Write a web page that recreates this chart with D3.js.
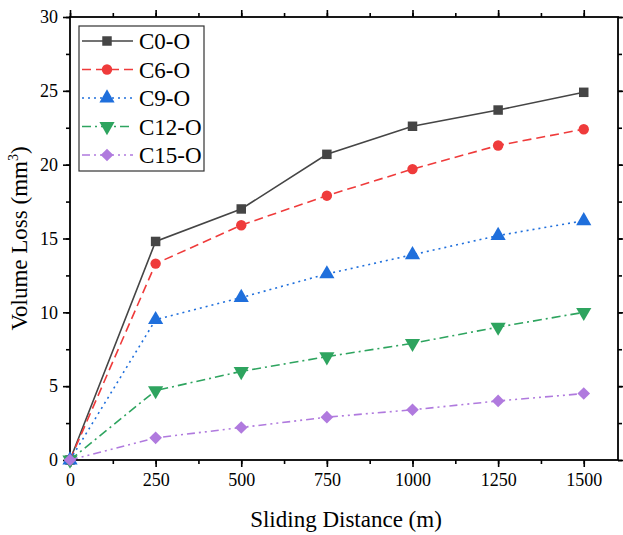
<!DOCTYPE html>
<html><head><meta charset="utf-8">
<script src="https://cdn.jsdelivr.net/npm/d3@7"></script>
<style>body{margin:0;background:#fff} text{font-family:"Liberation Serif","Times New Roman",Times,"DejaVu Serif",serif}</style>
</head><body>
<svg id="chart" width="623" height="535"></svg>
<script>
const distances = [0, 250, 500, 750, 1000, 1250, 1500];
const seriesNames = ["C0-O", "C6-O", "C9-O", "C12-O", "C15-O"];
const c0 = [0, 14.8, 17.0, 20.7, 22.6, 23.7, 24.9];
const c6 = [0, 13.3, 15.9, 17.9, 19.7, 21.3, 22.4];
const c9 = [0, 9.5, 11.0, 12.6, 13.9, 15.2, 16.2];
const c12 = [0, 4.7, 6.0, 7.0, 7.9, 9.0, 10.0];
const c15 = [0, 1.5, 2.2, 2.9, 3.4, 4.0, 4.5];
const xTicks = [0, 250, 500, 750, 1000, 1250, 1500];
const yTicks = [0, 5, 10, 15, 20, 25, 30];

const colors = ["#454545", "#ef3b3b", "#1f6fdc", "#2ea45f", "#b07ade"];
const dashes = [null, "9,5", "2,4", "9,4,2,4", "8,4,2,4,2,4"];
const symbols = ["square", "circle", "tup", "tdown", "diamond"];
const values = [c0, c6, c9, c12, c15];

const svg = d3.select("#chart");
const L = 70, R = 618, T = 17, B = 460;
const x = d3.scaleLinear().domain([0, 1600]).range([L, R]);
const y = d3.scaleLinear().domain([0, 30]).range([B, T]);

const minorX = d3.range(0, 1600, 125);
const minorY = d3.range(0, 30.01, 2.5);

function styleAxis(g) {
  g.select(".domain").remove();
  g.attr("font-family", null);
  g.selectAll("line").attr("stroke", "#000").attr("stroke-width", 1.6);
  g.selectAll("text").attr("font-size", 18).attr("fill", "#000");
}
svg.append("g").attr("transform", `translate(0,${B})`)
  .call(d3.axisBottom(x).tickValues(minorX).tickSize(4).tickFormat("")).call(styleAxis);
svg.append("g").attr("transform", `translate(0,${B})`)
  .call(d3.axisBottom(x).tickValues(xTicks).tickSize(7).tickPadding(6).tickFormat(d3.format("d"))).call(styleAxis);
svg.append("g").attr("transform", `translate(0,${T})`)
  .call(d3.axisTop(x).tickValues(minorX).tickSize(4).tickFormat("")).call(styleAxis);
svg.append("g").attr("transform", `translate(0,${T})`)
  .call(d3.axisTop(x).tickValues(xTicks).tickSize(7).tickFormat("")).call(styleAxis);
svg.append("g").attr("transform", `translate(${L},0)`)
  .call(d3.axisLeft(y).tickValues(minorY).tickSize(4).tickFormat("")).call(styleAxis);
svg.append("g").attr("transform", `translate(${L},0)`)
  .call(d3.axisLeft(y).tickValues(yTicks).tickSize(7).tickPadding(5)).call(styleAxis);
svg.append("g").attr("transform", `translate(${R},0)`)
  .call(d3.axisRight(y).tickValues(minorY).tickSize(4).tickFormat("")).call(styleAxis);
svg.append("g").attr("transform", `translate(${R},0)`)
  .call(d3.axisRight(y).tickValues(yTicks).tickSize(7).tickFormat("")).call(styleAxis);

svg.append("rect").attr("x", L).attr("y", T).attr("width", R - L).attr("height", B - T)
  .attr("fill", "none").attr("stroke", "#000").attr("stroke-width", 1.8);

function sym(i) {
  const t = symbols[i];
  if (t === "square") return { d: d3.symbol().type(d3.symbolSquare).size(90)(), rot: 0 };
  if (t === "circle") return { d: d3.symbol().type(d3.symbolCircle).size(85)(), rot: 0 };
  if (t === "tup") return { d: d3.symbol().type(d3.symbolTriangle).size(100)(), rot: 0 };
  if (t === "tdown") return { d: d3.symbol().type(d3.symbolTriangle).size(100)(), rot: 180 };
  return { d: d3.symbol().type(d3.symbolSquare).size(80)(), rot: 45 };
}

const line = d3.line().x((d, j) => x(distances[j])).y(d => y(d));
values.forEach((vals, i) => {
  const p = svg.append("path").datum(vals).attr("d", line)
    .attr("fill", "none").attr("stroke", colors[i]).attr("stroke-width", 1.6);
  if (dashes[i]) p.attr("stroke-dasharray", dashes[i]);
  const s = sym(i);
  svg.append("g").selectAll("path").data(vals).join("path")
    .attr("d", s.d)
    .attr("transform", (d, j) => `translate(${x(distances[j])},${y(d)}) rotate(${s.rot})`)
    .attr("fill", colors[i]);
});

const lg = svg.append("g");
lg.append("rect").attr("x", 79).attr("y", 26).attr("width", 125).attr("height", 145)
  .attr("fill", "#fff").attr("stroke", "#333").attr("stroke-width", 1.2);
seriesNames.forEach((name, i) => {
  const yy = 41 + i * 28.5;
  const l = lg.append("line").attr("x1", 82).attr("x2", 133).attr("y1", yy).attr("y2", yy)
    .attr("stroke", colors[i]).attr("stroke-width", 1.6);
  if (dashes[i]) l.attr("stroke-dasharray", dashes[i]);
  const s = sym(i);
  lg.append("path").attr("d", s.d)
    .attr("transform", `translate(107,${yy}) rotate(${s.rot})`)
    .attr("fill", colors[i]);
  lg.append("text").attr("x", 139).attr("y", yy + 8).text(name)
    .attr("font-size", 23).attr("fill", "#000");
});

svg.append("text").attr("x", 346).attr("y", 527).attr("text-anchor", "middle")
  .attr("font-size", 23).attr("fill", "#000").text("Sliding Distance (m)");
const yt = svg.append("text").attr("transform", `translate(27,${(T + B) / 2}) rotate(-90)`)
  .attr("text-anchor", "middle").attr("font-size", 23).attr("fill", "#000");
yt.append("tspan").text("Volume Loss (mm");
yt.append("tspan").attr("font-size", 14).attr("dy", -9).text("3");
yt.append("tspan").attr("dy", 9).text(")");
</script>
</body></html>
